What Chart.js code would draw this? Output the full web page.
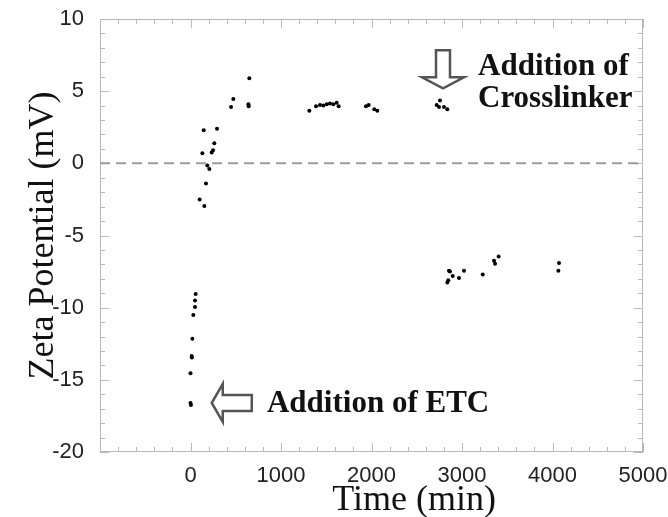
<!DOCTYPE html>
<html>
<head>
<meta charset="utf-8">
<script src="https://cdn.jsdelivr.net/npm/chart.js@4.4.1/dist/chart.umd.min.js"></script>
<style>
  html, body { margin: 0; padding: 0; background: #fff; }
  #wrap { width: 668px; height: 517px; }
</style>
</head>
<body>
<div id="wrap"><canvas id="zetaChart" width="668" height="517"></canvas></div>
<script>
const timeMin = [
  0, 5, 0, 13, 15, 20, 31, 50, 50, 57,
  101, 153, 171, 186, 208, 131, 234, 249, 263, 146, 293, 448, 473, 640, 643, 650,
  1313, 1387, 1431, 1468, 1505, 1541, 1578, 1615, 1637,
  1939, 1969, 2031, 2064,
  2720, 2746, 2757, 2801, 2838,
  2838, 2849, 2856, 2867, 2897, 2967, 3022, 3229, 3354, 3365, 3405, 4065, 4072
];
const zetaMV = [
  -16.6, -16.75, -14.55, -13.35, -13.45, -12.15, -10.5, -9.95, -9.5, -9.05,
  -2.5, -2.95, -1.4, -0.15, -0.4, 0.7, 0.75, 0.9, 1.4, 2.3, 2.4, 3.9, 4.45, 4.1, 3.95, 5.9,
  3.65, 3.95, 4.05, 4.0, 4.1, 4.15, 4.1, 4.2, 3.95,
  3.95, 4.05, 3.75, 3.65,
  4.05, 3.9, 4.35, 3.9, 3.75,
  -8.25, -8.1, -7.45, -7.5, -7.8, -7.95, -7.45, -7.7, -6.75, -6.95, -6.45, -7.45, -6.9
];
const xTickLabels = ['0', '1000', '2000', '3000', '4000', '5000'];
const yTickLabels = ['-20', '-15', '-10', '-5', '0', '5', '10'];
const zeroLineX = [-1000, 5000];
const zeroLineY = [0, 0];

const points = timeMin.map((t, i) => ({ x: t, y: zetaMV[i] }));
const zeroLine = zeroLineX.map((t, i) => ({ x: t, y: zeroLineY[i] }));

// box with inward ticks on all four sides
const frameTicks = {
  id: 'frameTicks',
  beforeDatasetsDraw(chart) {
    const { ctx, chartArea: a, scales: { x, y } } = chart;
    ctx.save();
    ctx.strokeStyle = '#b8b8b8';
    ctx.lineWidth = 1;
    ctx.strokeRect(Math.round(a.left) + 0.5, Math.round(a.top) + 0.5,
      Math.round(a.right - a.left) - 1, Math.round(a.bottom - a.top) - 1);
    ctx.beginPath();
    for (let v = -1000; v <= 5000; v += 200) {
      const px = Math.round(x.getPixelForValue(v)) + 0.5;
      const len = v % 1000 === 0 ? 9 : 5;
      ctx.moveTo(px, a.bottom); ctx.lineTo(px, a.bottom - len);
      ctx.moveTo(px, a.top); ctx.lineTo(px, a.top + len);
    }
    for (let v = -20; v <= 10; v += 1) {
      const py = Math.round(y.getPixelForValue(v)) + 0.5;
      const len = v % 5 === 0 ? 9 : 5;
      ctx.moveTo(a.left, py); ctx.lineTo(a.left + len, py);
      ctx.moveTo(a.right, py); ctx.lineTo(a.right - len, py);
    }
    ctx.stroke();
    ctx.restore();
  }
};

// hollow arrows, their labels and the x axis title
const notes = {
  id: 'notes',
  afterDatasetsDraw(chart) {
    const { ctx, scales: { x, y } } = chart;
    ctx.save();
    ctx.strokeStyle = '#555';
    ctx.fillStyle = '#fff';
    ctx.lineWidth = 2.5;
    ctx.lineJoin = 'miter';

    // down arrow over the crosslinker point
    let px = x.getPixelForValue(2790), py = y.getPixelForValue(5.2);
    ctx.beginPath();
    ctx.moveTo(px - 7, py - 38);
    ctx.lineTo(px + 7, py - 38);
    ctx.lineTo(px + 7, py - 11);
    ctx.lineTo(px + 21, py - 11);
    ctx.lineTo(px, py);
    ctx.lineTo(px - 21, py - 11);
    ctx.lineTo(px - 7, py - 11);
    ctx.closePath();
    ctx.fill(); ctx.stroke();

    // left arrow beside the ETC points
    px = x.getPixelForValue(235); py = y.getPixelForValue(-16.6);
    ctx.beginPath();
    ctx.moveTo(px, py);
    ctx.lineTo(px + 11, py - 19);
    ctx.lineTo(px + 11, py - 8);
    ctx.lineTo(px + 40, py - 8);
    ctx.lineTo(px + 40, py + 8);
    ctx.lineTo(px + 11, py + 8);
    ctx.lineTo(px + 11, py + 19);
    ctx.closePath();
    ctx.fill(); ctx.stroke();

    ctx.fillStyle = '#111';
    ctx.font = 'bold 31px "Liberation Serif"';
    ctx.textBaseline = 'alphabetic';
    ctx.textAlign = 'left';
    ctx.fillText('Addition of', x.getPixelForValue(3177), y.getPixelForValue(6.11));
    ctx.fillText('Crosslinker', x.getPixelForValue(3177), y.getPixelForValue(3.89));
    ctx.fillText('Addition of ETC', x.getPixelForValue(845), y.getPixelForValue(-17.2));

    // x axis title sits right of centre in the original
    ctx.font = '36px "Liberation Serif"';
    ctx.textAlign = 'center';
    ctx.textBaseline = 'middle';
    ctx.fillText('Time (min)', x.getPixelForValue(2470), 501);
    ctx.restore();
  }
};

const ctx = document.getElementById('zetaChart').getContext('2d');
const zetaChart = new Chart(ctx, {
  type: 'scatter',
  data: {
    datasets: [
      {
        label: 'Zeta potential',
        data: points,
        pointRadius: 2,
        pointBackgroundColor: '#000',
        pointBorderWidth: 0
      },
      {
        type: 'line',
        label: 'zero',
        data: zeroLine,
        borderColor: '#9a9a9a',
        borderWidth: 2,
        borderDash: [10, 6],
        pointRadius: 0,
        fill: false
      }
    ]
  },
  options: {
    responsive: false,
    animation: false,
    layout: { padding: { top: 19, right: 25, left: 0, bottom: 0 } },
    plugins: { legend: { display: false }, tooltip: { enabled: false } },
    scales: {
      x: {
        type: 'linear',
        min: -1000,
        max: 5000,
        afterFit(s) { s.height = 65; s.paddingLeft = 0; s.paddingRight = 0; },
        grid: { display: false },
        border: { display: false },
        ticks: {
          stepSize: 1000,
          maxRotation: 0,
          autoSkip: false,
          padding: 3,
          color: '#222',
          font: { family: 'Liberation Sans', size: 22 },
          callback: v => (v >= 0 ? xTickLabels[v / 1000] : '')
        },
        title: { display: false, text: 'Time (min)' }
      },
      y: {
        min: -20,
        max: 10,
        afterFit(s) { s.width = 100; s.paddingTop = 0; s.paddingBottom = 0; },
        grid: { display: false },
        border: { display: false },
        ticks: {
          stepSize: 5,
          padding: 8,
          color: '#222',
          font: { family: 'Liberation Sans', size: 22 },
          callback: v => yTickLabels[(v + 20) / 5]
        },
        title: {
          display: true,
          text: 'Zeta Potential (mV)',
          color: '#111',
          padding: { top: 22, bottom: 0 },
          font: { family: 'Liberation Serif', size: 36, lineHeight: 1.2 }
        }
      }
    }
  },
  plugins: [frameTicks, notes]
});
</script>
</body>
</html>
